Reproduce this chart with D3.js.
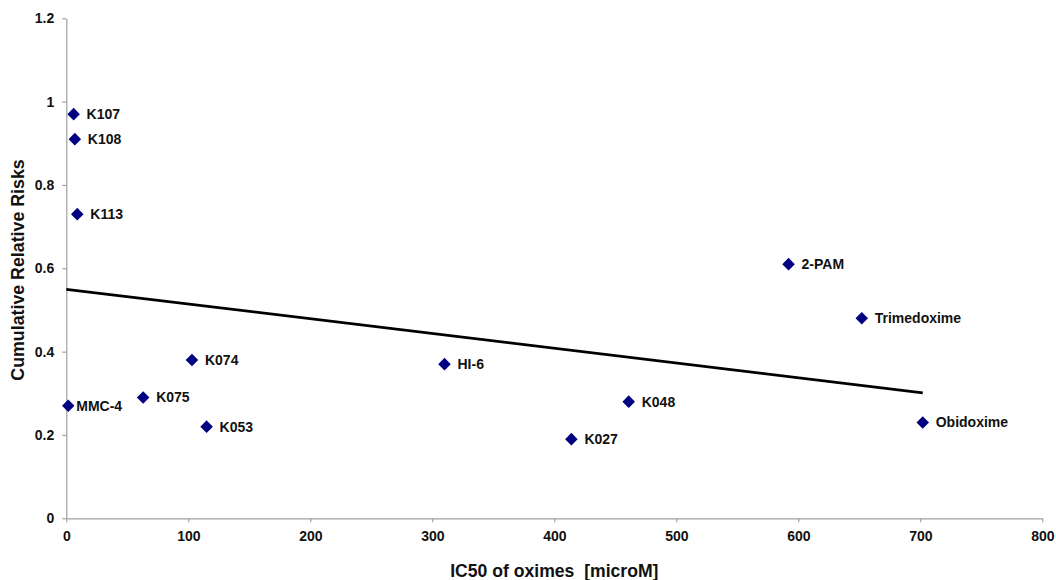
<!DOCTYPE html>
<html>
<head>
<meta charset="utf-8">
<script src="https://cdn.jsdelivr.net/npm/d3@7"></script>
<style>
  html, body { margin: 0; padding: 0; background: #fff; }
  svg { display: block; font-family: "Liberation Sans", Arial, sans-serif; }
</style>
</head>
<body>
<script>
// oximes : nom, IC50 et risque relatif cumulé
const oximes = ["K107", "K108", "K113", "MMC-4", "K075", "K074", "K053", "HI-6", "K027", "K048", "2-PAM", "Trimedoxime", "Obidoxime"];
const ic50 = [6, 7, 9, 1.6, 63, 103, 115, 310, 414, 461, 592, 652, 702];
const risks = [0.97, 0.91, 0.73, 0.27, 0.29, 0.38, 0.22, 0.37, 0.19, 0.28, 0.61, 0.48, 0.23];
const xTicks = [0, 100, 200, 300, 400, 500, 600, 700, 800];
const yTicks = [0, 0.2, 0.4, 0.6, 0.8, 1, 1.2];

const width = 1056, height = 580;
const data = oximes.map((n, i) => ({ lib: n, x: ic50[i], y: risks[i] }));

const svg = d3.select("body").append("svg")
    .attr("width", width)
    .attr("height", height)
    .attr("viewBox", [0, 0, width, height]);

const xScale = d3.scaleLinear().domain([0, 800]).range([66.3, 1042.3]);
const yScale = d3.scaleLinear().domain([0, 1.2]).range([518.3, 18.3]);

const axisCol = "#a0a0a0";

// axe x
const gx = svg.append("g")
    .attr("transform", `translate(0,${yScale(0)})`)
    .call(d3.axisBottom(xScale).tickValues(xTicks).tickSize(4).tickSizeOuter(0).tickPadding(9));
// axe y
const gy = svg.append("g")
    .attr("transform", `translate(${xScale(0)},0)`)
    .call(d3.axisLeft(yScale).tickValues(yTicks).tickSize(4).tickSizeOuter(0).tickPadding(8)
        .tickFormat(d => d3.format("")(+d.toFixed(1))));

[gx, gy].forEach(g => {
    g.select(".domain").attr("stroke", axisCol).attr("stroke-width", 1.2);
    g.selectAll(".tick line").attr("stroke", axisCol).attr("stroke-width", 1.2);
    g.selectAll(".tick text")
        .attr("fill", "#111")
        .attr("font-size", 14)
        .attr("font-weight", "bold")
        .attr("font-family", "'Liberation Sans', Arial, sans-serif");
});

// titres des axes
svg.append("text")
    .attr("x", (xScale(0) + xScale(800)) / 2)
    .attr("y", 577)
    .attr("text-anchor", "middle")
    .attr("font-size", 17.6)
    .attr("font-weight", "bold")
    .attr("fill", "#111")
    .style("white-space", "pre")
    .text("IC50 of oximes  [microM]");

svg.append("text")
    .attr("transform", `translate(24,270) rotate(-90)`)
    .attr("text-anchor", "middle")
    .attr("font-size", 17.8)
    .attr("font-weight", "bold")
    .attr("fill", "#111")
    .text("Cumulative Relative Risks");

// droite de tendance (moindres carrés)
const mx = d3.mean(data, d => d.x), my = d3.mean(data, d => d.y);
const slope = d3.sum(data, d => (d.x - mx) * (d.y - my)) / d3.sum(data, d => (d.x - mx) ** 2);
const icpt = my - slope * mx;
const [x0, x1] = [0, d3.max(data, d => d.x)];
svg.append("line")
    .attr("x1", xScale(x0)).attr("y1", yScale(icpt + slope * x0))
    .attr("x2", xScale(x1)).attr("y2", yScale(icpt + slope * x1))
    .attr("stroke", "#000")
    .attr("stroke-width", 2.8);

// points
const sym = d3.symbol().type(d3.symbolDiamond2).size(100);
svg.append("g")
    .selectAll("path")
    .data(data)
    .join("path")
    .attr("transform", d => `translate(${xScale(d.x)},${yScale(d.y)})`)
    .attr("d", sym)
    .attr("fill", "#000080");

// étiquettes
svg.append("g")
    .selectAll("text")
    .data(data)
    .join("text")
    .attr("x", d => xScale(d.x) + (d.lib === "MMC-4" ? 8 : 13))
    .attr("y", d => yScale(d.y))
    .attr("dy", "0.35em")
    .attr("font-size", 14)
    .attr("font-weight", "bold")
    .attr("fill", "#111")
    .text(d => d.lib);
</script>
</body>
</html>
